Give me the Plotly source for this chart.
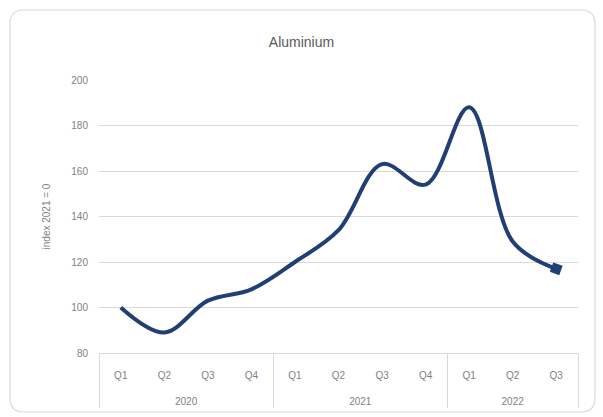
import plotly.graph_objects as go

years = ["2020", "2020", "2020", "2020", "2021", "2021", "2021", "2021", "2022", "2022", "2022"]
quarters = ["Q1", "Q2", "Q3", "Q4", "Q1", "Q2", "Q3", "Q4", "Q1", "Q2", "Q3"]
values = [100, 89, 103, 108, 120, 134, 163, 154, 188, 129, 117]
y_ticks = [80, 100, 120, 140, 160, 180, 200]

line_color = "#213F74"
marker_sizes = [0] * (len(values) - 1) + [10]

# padded labels so the two label rows sit lower, as in the reference
year_labels = [" <br>" + y for y in years]
quarter_labels = [" <br>" + q for q in quarters]

fig = go.Figure()
fig.add_trace(go.Scatter(
    x=[year_labels, quarter_labels], y=values,
    mode="lines+markers",
    line=dict(color=line_color, width=4, shape="spline", smoothing=1.0),
    marker=dict(symbol="square", size=marker_sizes, color=line_color, angle=20,
                opacity=1, line=dict(width=0)),
    showlegend=False, hoverinfo="y",
))

# plot area pixel positions for the frame shape
L, R, T, B = 99, 578, 80, 353
W, H = 603, 417
def px(x):
    return (x - L) / (R - L)
def py(y):
    return (B - y) / (B - T)
x0, x1, y0, y1 = px(10), px(595), py(412), py(10)
rx, ry = 14 / (R - L), 14 / (B - T)
path = (f"M {x0+rx},{y1} L {x1-rx},{y1} Q {x1},{y1} {x1},{y1-ry} "
        f"L {x1},{y0+ry} Q {x1},{y0} {x1-rx},{y0} L {x0+rx},{y0} "
        f"Q {x0},{y0} {x0},{y0+ry} L {x0},{y1-ry} Q {x0},{y1} {x0+rx},{y1} Z")

fig.update_layout(
    width=W, height=H,
    margin=dict(l=L, r=W - R, t=T, b=H - B),
    paper_bgcolor="white", plot_bgcolor="white",
    font=dict(family="Liberation Sans, Arial, sans-serif", color="#7F7F7F", size=10),
    title=dict(text="Aluminium", x=0.5, xanchor="center", y=1 - 42 / H, yanchor="middle",
               font=dict(size=14, color="#595959")),
    shapes=[dict(type="path", xref="paper", yref="paper", path=path,
                 line=dict(color="#D9D9D9", width=1.2), layer="below")],
    xaxis=dict(
        type="multicategory", automargin=False,
        showline=True, linecolor="#D9D9D9", linewidth=1,
        showgrid=False, ticks="",
        tickfont=dict(size=10, color="#7F7F7F"),
        showdividers=True, dividercolor="#D9D9D9", dividerwidth=1,
        range=[-0.5, len(values) - 0.5],
    ),
    yaxis=dict(
        range=[80, 200], tickvals=y_ticks, showgrid=True, gridcolor="#D9D9D9", gridwidth=1,
        zeroline=False, showline=False, ticks="", ticklabelstandoff=10,
        tickfont=dict(size=10),
        title=dict(text="index 2021 = 0", font=dict(size=10, color="#7F7F7F"), standoff=18),
    ),
)

fig.write_html("out.html")
